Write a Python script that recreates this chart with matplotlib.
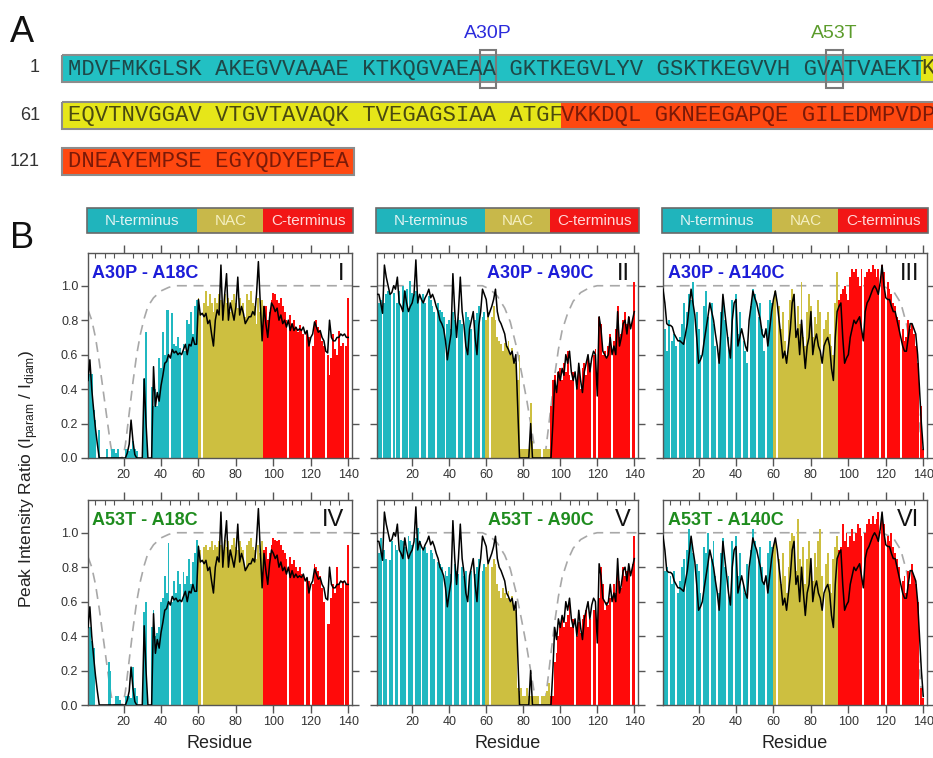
import numpy as np
import matplotlib.pyplot as plt
from matplotlib.patches import Rectangle
from matplotlib.ticker import MultipleLocator

plt.rcParams['font.family'] = ['Liberation Sans', 'DejaVu Sans']
plt.rcParams['mathtext.fontset'] = 'custom'
plt.rcParams['mathtext.rm'] = 'Liberation Sans'

# ---- panel A: sequence ----
seq_rows = ['MDVFMKGLSK AKEGVVAAAE KTKQGVAEAA GKTKEGVLYV GSKTKEGVVH GVATVAEKTK',
            'EQVTNVGGAV VTGVTAVAQK TVEGAGSIAA ATGFVKKDQL GKNEEGAPQE GILEDMPVDP',
            'DNEAYEMPSE EGYQDYEPEA']
row_starts = ['1', '61', '121']
mutations = [(30, 'A30P', '#2b2bdc'), (53, 'A53T', '#5c9c2c')]

# ---- panel B: data ----
residues = np.arange(1, 141)
domain_names = ['N-terminus', 'NAC', 'C-terminus']

# bars: mutant PRE ratios
a30p_18c = [0.30, 0.49, 0.49, 0.28, 0.22, 0.00, 0.16, 0.00, 0.00, 0.00,
            0.05, 0.00, 0.00, 0.05, 0.05, 0.03, 0.05, 0.00, 0.00, 0.00,
            0.05, 0.05, 0.04, 0.05, 0.10, 0.05, 0.04, 0.00, 0.00, 0.00,
            0.46, 0.73, 0.00, 0.00, 0.41, 0.30, 0.40, 0.30, 0.58, 0.52,
            0.73, 0.60, 0.86, 0.86, 0.00, 0.84, 0.66, 0.65, 0.70, 0.64,
            0.00, 0.66, 0.62, 0.80, 0.78, 0.85, 0.72, 0.88, 0.92, 0.93,
            0.85, 0.00, 0.90, 0.97, 0.88, 0.95, 0.90, 0.85, 0.93, 0.90,
            0.95, 0.92, 0.88, 0.95, 0.90, 0.93, 0.85, 0.92, 0.95, 0.90,
            0.87, 0.93, 0.88, 0.90, 0.82, 0.95, 0.92, 0.97, 0.90, 0.88,
            0.78, 0.93, 0.85, 0.92, 0.88, 0.88, 0.80, 0.85, 0.92, 0.96,
            0.95, 0.92, 0.90, 0.93, 0.88, 0.85, 0.80, 0.00, 0.83, 0.78,
            0.80, 0.76, 0.73, 0.77, 0.75, 0.72, 0.00, 0.73, 0.70, 0.00,
            0.65, 0.78, 0.80, 0.76, 0.73, 0.68, 0.65, 0.00, 0.60, 0.48,
            0.58, 0.72, 0.63, 0.60, 0.74, 0.65, 0.67, 0.00, 0.65, 0.93]
a30p_90c = [0.98, 0.90, 0.92, 0.00, 0.90, 0.95, 0.97, 0.95, 0.00, 0.96,
            0.00, 0.90, 0.97, 0.00, 1.00, 0.97, 0.98, 0.00, 1.03, 0.96,
            0.95, 0.97, 0.92, 0.00, 0.93, 0.95, 0.90, 0.00, 0.94, 0.92,
            0.88, 0.85, 0.00, 0.90, 0.86, 0.85, 0.82, 0.00, 0.78, 0.80,
            0.75, 0.85, 0.80, 0.00, 0.82, 0.80, 0.78, 0.00, 0.85, 0.82,
            0.80, 0.75, 0.00, 0.80, 0.84, 0.88, 0.00, 0.82, 0.85, 0.80,
            0.85, 0.00, 0.82, 0.88, 0.80, 0.70, 0.68, 0.66, 0.62, 0.67,
            0.65, 0.68, 0.60, 0.64, 0.58, 0.55, 0.45, 0.60, 0.05, 0.05,
            0.05, 0.05, 0.05, 0.32, 0.10, 0.05, 0.05, 0.05, 0.05, 0.00,
            0.05, 0.05, 0.05, 0.05, 0.30, 0.45, 0.48, 0.42, 0.50, 0.52,
            0.45, 0.55, 0.50, 0.62, 0.48, 0.45, 0.50, 0.00, 0.42, 0.50,
            0.40, 0.52, 0.55, 0.48, 0.58, 0.55, 0.00, 0.60, 0.63, 0.00,
            0.82, 0.78, 0.60, 0.62, 0.58, 0.65, 0.72, 0.00, 0.68, 0.75,
            0.88, 0.70, 0.72, 0.80, 0.85, 0.78, 0.82, 0.00, 0.80, 1.02]
a30p_140c = [0.98, 0.75, 0.62, 0.80, 0.00, 0.68, 0.72, 0.65, 0.00, 0.70,
             0.78, 0.90, 0.00, 0.85, 0.95, 0.92, 1.02, 0.00, 0.85, 0.75,
             0.60, 0.00, 0.88, 0.97, 0.82, 0.00, 0.90, 0.78, 0.65, 0.00,
             0.60, 0.85, 0.93, 0.80, 0.00, 0.70, 0.60, 0.92, 0.00, 0.95,
             0.72, 0.85, 0.00, 0.68, 0.62, 0.55, 0.00, 0.88, 0.98, 0.95,
             0.00, 0.82, 0.90, 0.75, 0.62, 0.00, 0.80, 0.92, 0.90, 0.92,
             0.97, 0.00, 0.88, 0.75, 0.85, 0.68, 0.60, 0.80, 0.92, 0.98,
             0.95, 0.72, 0.88, 0.78, 1.02, 0.70, 0.65, 0.85, 0.95, 0.88,
             0.70, 0.82, 0.78, 0.92, 0.85, 0.00, 0.75, 0.80, 0.85, 0.72,
             0.65, 0.60, 0.90, 1.08, 0.92, 0.95, 0.98, 1.00, 0.95, 0.92,
             1.05, 1.10, 1.08, 1.10, 1.05, 1.00, 1.10, 0.00, 1.05, 1.08,
             1.10, 1.08, 1.12, 1.10, 1.05, 1.10, 0.00, 1.12, 1.08, 0.00,
             1.02, 0.98, 0.95, 0.90, 0.88, 0.82, 0.80, 0.00, 0.75, 0.68,
             0.70, 0.80, 0.75, 0.78, 0.72, 0.65, 0.55, 0.00, 0.30, 0.05]
a53t_18c = [0.45, 0.45, 0.37, 0.33, 0.00, 0.00, 0.00, 0.00, 0.00, 0.00,
            0.00, 0.25, 0.20, 0.00, 0.00, 0.05, 0.05, 0.03, 0.00, 0.00,
            0.05, 0.05, 0.05, 0.04, 0.22, 0.10, 0.05, 0.00, 0.00, 0.00,
            0.54, 0.60, 0.00, 0.00, 0.45, 0.55, 0.40, 0.42, 0.45, 0.60,
            0.62, 0.75, 0.65, 0.94, 0.00, 0.60, 0.72, 0.65, 0.78, 0.70,
            0.00, 0.77, 0.70, 0.75, 0.85, 0.70, 0.83, 0.88, 0.96, 0.93,
            0.90, 0.00, 0.92, 0.93, 0.90, 0.92, 0.95, 0.90, 0.93, 0.92,
            0.95, 0.93, 0.90, 0.96, 0.92, 0.95, 0.90, 0.93, 0.97, 0.92,
            0.90, 0.95, 0.92, 0.90, 0.80, 0.93, 0.95, 0.97, 0.92, 0.90,
            0.85, 0.93, 0.88, 0.95, 0.90, 0.92, 0.85, 0.88, 0.93, 0.97,
            0.96, 0.95, 0.96, 0.93, 0.90, 0.88, 0.85, 0.00, 0.86, 0.82,
            0.84, 0.80, 0.78, 0.80, 0.76, 0.75, 0.00, 0.74, 0.72, 0.00,
            0.70, 0.82, 0.80, 0.78, 0.75, 0.68, 0.60, 0.00, 0.47, 0.47,
            0.62, 0.70, 0.65, 0.80, 0.70, 0.68, 0.72, 0.00, 0.70, 0.93]
a53t_90c = [0.95, 0.88, 0.97, 0.00, 0.90, 0.85, 0.00, 0.84, 0.95, 0.00,
            0.93, 0.90, 0.00, 0.96, 0.95, 0.92, 0.00, 0.98, 0.95, 0.93,
            0.00, 0.97, 1.03, 0.95, 0.00, 0.90, 0.92, 0.88, 0.00, 0.90,
            0.88, 0.85, 0.00, 0.83, 0.82, 0.80, 0.00, 0.78, 0.75, 0.80,
            0.76, 0.00, 0.82, 0.78, 0.76, 0.00, 0.80, 0.75, 0.78, 0.00,
            0.72, 0.78, 0.00, 0.76, 0.80, 0.85, 0.00, 0.78, 0.82, 0.80,
            0.82, 0.00, 0.80, 0.85, 0.82, 0.70, 0.66, 0.62, 0.68, 0.65,
            0.62, 0.66, 0.60, 0.63, 0.58, 0.55, 0.10, 0.08, 0.10, 0.05,
            0.05, 0.10, 0.05, 0.05, 0.05, 0.05, 0.05, 0.05, 0.00, 0.05,
            0.05, 0.05, 0.08, 0.13, 0.05, 0.05, 0.25, 0.30, 0.40, 0.46,
            0.50, 0.45, 0.48, 0.52, 0.58, 0.45, 0.50, 0.00, 0.40, 0.48,
            0.42, 0.50, 0.52, 0.55, 0.45, 0.50, 0.00, 0.55, 0.58, 0.00,
            0.62, 0.80, 0.70, 0.55, 0.60, 0.58, 0.62, 0.00, 0.70, 0.65,
            0.78, 0.72, 0.68, 0.80, 0.75, 0.78, 0.80, 0.00, 0.82, 0.98]
a53t_140c = [0.98, 0.78, 0.80, 0.00, 0.75, 0.70, 0.78, 0.00, 0.65, 0.72,
             0.80, 0.85, 0.00, 0.90, 1.02, 0.95, 0.88, 0.00, 0.82, 0.78,
             0.65, 0.00, 0.92, 0.88, 1.00, 0.00, 0.85, 0.95, 0.75, 0.00,
             0.65, 0.88, 0.97, 0.80, 0.00, 0.75, 0.62, 0.95, 0.00, 0.98,
             0.75, 0.88, 0.00, 0.70, 0.65, 0.82, 0.00, 0.90, 1.02, 0.95,
             0.00, 0.85, 0.92, 0.80, 0.70, 0.00, 0.88, 0.95, 0.92, 0.90,
             0.95, 0.00, 0.85, 0.70, 0.88, 0.75, 0.65, 0.80, 0.95, 1.00,
             0.98, 0.78, 1.08, 0.85, 0.80, 0.92, 0.70, 0.85, 0.95, 0.78,
             0.72, 0.88, 0.80, 0.95, 1.02, 0.75, 0.00, 0.82, 0.88, 0.70,
             0.65, 0.85, 0.92, 0.98, 0.90, 0.92, 1.05, 0.95, 1.00, 0.92,
             0.98, 1.02, 0.95, 1.00, 1.05, 1.03, 0.98, 0.00, 1.00, 1.05,
             1.08, 1.05, 1.10, 1.05, 1.08, 1.12, 0.00, 1.10, 1.05, 0.00,
             0.98, 0.95, 1.00, 0.92, 0.88, 0.85, 0.80, 0.00, 0.72, 0.75,
             0.65, 0.78, 0.70, 0.82, 0.75, 0.70, 0.60, 0.00, 0.10, 0.04]

# black lines: reference profile for each spin-label site
line_18c = [0.45, 0.57, 0.40, 0.28, 0.17, 0.08, 0.00, 0.00, 0.00, 0.00,
            0.00, 0.00, 0.00, 0.00, 0.00, 0.00, 0.00, 0.00, 0.00, 0.00,
            0.00, 0.03, 0.08, 0.22, 0.10, 0.02, 0.00, 0.00, 0.00, 0.00,
            0.46, 0.20, 0.00, 0.00, 0.00, 0.53, 0.30, 0.38, 0.33, 0.42,
            0.48, 0.55, 0.56, 0.60, 0.58, 0.63, 0.61, 0.62, 0.60, 0.61,
            0.60, 0.63, 0.66, 0.60, 0.66, 0.65, 0.70, 0.66, 0.66, 0.92,
            0.83, 0.84, 0.82, 0.84, 0.78, 0.80, 0.72, 0.65, 0.80, 0.86,
            0.83, 1.12, 0.80, 0.95, 1.07, 0.80, 0.90, 0.85, 0.80, 0.88,
            1.05, 0.83, 0.88, 0.84, 0.78, 0.80, 0.82, 0.82, 0.85, 0.83,
            0.95, 1.14, 0.90, 0.68, 0.88, 0.78, 0.70, 0.82, 0.90, 0.88,
            0.85, 0.87, 0.80, 0.83, 0.78, 0.80, 0.76, 0.80, 0.74, 0.78,
            0.74, 0.76, 0.74, 0.75, 0.74, 0.76, 0.72, 0.74, 0.65, 0.70,
            0.72, 0.79, 0.76, 0.73, 0.74, 0.70, 0.68, 0.62, 0.61, 0.80,
            0.70, 0.68, 0.68, 0.70, 0.70, 0.72, 0.71, 0.72, 0.70, 0.70]
line_90c = [0.95, 0.95, 0.90, 0.84, 1.12, 1.05, 1.00, 0.95, 0.96, 1.00,
            0.98, 1.05, 0.90, 0.88, 0.85, 0.97, 0.90, 0.85, 0.88, 0.90,
            0.95, 1.15, 0.90, 0.95, 0.92, 0.90, 0.93, 0.95, 0.98, 0.93,
            0.95, 0.92, 0.88, 0.85, 0.80, 0.78, 0.75, 0.68, 0.57, 0.65,
            0.72, 1.07, 0.85, 0.70, 0.85, 1.05, 0.85, 0.77, 0.65, 0.60,
            0.75, 0.80, 0.85, 0.70, 0.60, 0.77, 0.85, 0.98, 0.95, 0.92,
            0.82, 0.85, 0.88, 0.92, 0.98, 0.85, 0.80, 0.78, 0.75, 0.72,
            0.65, 0.63, 0.60, 0.62, 0.55, 0.60, 0.30, 0.00, 0.00, 0.00,
            0.00, 0.00, 0.00, 0.20, 0.00, 0.00, 0.00, 0.00, 0.00, 0.00,
            0.00, 0.00, 0.00, 0.00, 0.00, 0.20, 0.45, 0.38, 0.50, 0.45,
            0.52, 0.48, 0.60, 0.55, 0.62, 0.50, 0.45, 0.50, 0.40, 0.55,
            0.45, 0.38, 0.50, 0.55, 0.60, 0.50, 0.58, 0.62, 0.60, 0.36,
            0.82, 0.75, 0.62, 0.60, 0.58, 0.60, 0.70, 0.60, 0.65, 0.60,
            0.85, 0.65, 0.70, 0.78, 0.80, 0.72, 0.82, 0.75, 0.80, 0.85]
line_140c = [0.98, 0.90, 0.78, 0.77, 0.77, 0.76, 0.72, 0.70, 0.68, 0.68,
             0.67, 0.66, 0.72, 0.78, 0.88, 0.98, 0.90, 0.83, 0.70, 0.55,
             0.57, 0.60, 0.68, 0.75, 0.82, 0.90, 0.85, 0.80, 0.72, 0.65,
             0.55, 0.75, 0.95, 0.85, 0.75, 0.65, 0.58, 0.80, 0.90, 0.92,
             0.65, 0.70, 0.75, 0.70, 0.65, 0.62, 0.80, 0.88, 0.97, 0.93,
             0.90, 0.85, 0.80, 0.72, 0.70, 0.75, 0.65, 0.75, 0.85, 0.92,
             0.97, 0.90, 0.80, 0.70, 0.58, 0.62, 0.55, 0.65, 0.75, 0.90,
             0.95, 0.70, 0.75, 0.60, 0.80, 0.65, 0.52, 0.65, 0.70, 0.85,
             0.60, 0.68, 0.72, 0.65, 0.62, 0.55, 0.65, 0.68, 0.70, 0.65,
             0.52, 0.45, 0.70, 0.85, 0.88, 0.90, 0.70, 0.55, 0.58, 0.60,
             0.70, 0.75, 0.80, 0.78, 0.80, 0.82, 0.75, 0.68, 0.85, 0.90,
             0.92, 0.95, 0.98, 1.00, 0.98, 0.95, 1.02, 1.12, 1.00, 0.93,
             0.92, 0.92, 0.88, 0.85, 0.85, 0.80, 0.75, 0.70, 0.65, 0.62,
             0.62, 0.70, 0.78, 0.78, 0.75, 0.72, 0.60, 0.40, 0.20, 0.05]

# grey dashed: expected profile for a random coil
theory_18c_x = [1, 3, 5, 7, 9, 11, 13, 14, 15, 19, 20, 21, 23, 25, 27, 29, 31, 33, 36, 40, 44, 47, 142]
theory_18c_y = [0.86, 0.80, 0.70, 0.56, 0.40, 0.24, 0.08, 0.02, 0.0, 0.0, 0.02, 0.08, 0.26, 0.44,
                0.60, 0.72, 0.81, 0.88, 0.93, 0.97, 0.99, 1.0, 1.0]
theory_90c_x = [1, 58, 62, 66, 70, 73, 76, 79, 82, 84, 86, 87, 88, 91, 92, 93, 95, 97, 99, 101,
                104, 107, 111, 116, 120, 142]
theory_90c_y = [1.0, 1.0, 0.98, 0.94, 0.87, 0.79, 0.66, 0.50, 0.33, 0.20, 0.07, 0.02, 0.0, 0.0,
                0.03, 0.12, 0.30, 0.48, 0.63, 0.74, 0.84, 0.91, 0.96, 0.99, 1.0, 1.0]
theory_140c_x = [1, 118, 124, 128, 131, 134, 136, 138, 139, 140]
theory_140c_y = [1.0, 1.0, 0.97, 0.90, 0.78, 0.60, 0.42, 0.20, 0.08, 0.0]

panels = [
    (a30p_18c, line_18c, theory_18c_x, theory_18c_y, 'A30P - A18C', 'I', 0.015, 'left'),
    (a30p_90c, line_90c, theory_90c_x, theory_90c_y, 'A30P - A90C', 'II', 0.83, 'right'),
    (a30p_140c, line_140c, theory_140c_x, theory_140c_y, 'A30P - A140C', 'III', 0.02, 'left'),
    (a53t_18c, line_18c, theory_18c_x, theory_18c_y, 'A53T - A18C', 'IV', 0.015, 'left'),
    (a53t_90c, line_90c, theory_90c_x, theory_90c_y, 'A53T - A90C', 'V', 0.83, 'right'),
    (a53t_140c, line_140c, theory_140c_x, theory_140c_y, 'A53T - A140C', 'VI', 0.02, 'left'),
]

seq_colors = ['#22c0c3', '#e6e619', '#ff4810']
seq_text = ['#1e4848', '#4a4a10', '#7a1a08']
bar_cols = ['#20b8c0', '#cdbf40', '#ff0a0a']
head_cols = ['#20b4bc', '#c8b84a', '#f21616']
head_text = ['#dff3f3', '#f4efc0', '#ffd8d8']


def domain(r):
    if r < 60:
        return 0
    if r < 95:
        return 1
    return 2


W, H = 933.0, 758.0


def box(x, y, w, h):
    return [x / W, 1 - (y + h) / H, w / W, h / H]


fig = plt.figure(figsize=(9.33, 7.58), dpi=100)

ax0 = fig.add_axes([0, 0, 1, 1])
ax0.set_xlim(0, W)
ax0.set_ylim(H, 0)
ax0.axis('off')

ax0.text(10, 33, 'A', fontsize=26, va='center', ha='left', color='#111')
ax0.text(10, 238, 'B', fontsize=26, va='center', ha='left', color='#111')

x0, cw, bh = 68, 13.33, 27
row_y = [68, 115, 161]
for k, row in enumerate(seq_rows):
    y = row_y[k]
    n = len(row.replace(' ', ''))
    idx = [i + i // 10 for i in range(n)]
    doms = [domain(60 * k + i + 1) for i in range(n)]
    left = x0 - 6
    end = x0 + len(row) * cw + 6
    # split into colour runs
    cuts = [0] + [i for i in range(1, n) if doms[i] != doms[i - 1]] + [n]
    for a, b in zip(cuts[:-1], cuts[1:]):
        xa = left if a == 0 else x0 + idx[a] * cw
        xb = end if b == n else x0 + idx[b] * cw
        ax0.add_patch(Rectangle((xa, y - bh / 2), xb - xa, bh, fc=seq_colors[doms[a]], ec='none'))
        ca = idx[a]
        cb = len(row) if b == n else idx[b]
        ax0.text(x0 + ca * cw, y + 1, row[ca:cb], family='Liberation Mono', fontsize=16,
                 va='center', ha='left', color=seq_text[doms[a]])
    ax0.add_patch(Rectangle((left, y - bh / 2), end - left, bh, fill=False, ec='#8c8c8c', lw=1.5))
    ax0.text(40, y, row_starts[k], fontsize=13, ha='right', va='center', color='#333')

for res, name, col in mutations:
    i = res - 1
    xc = x0 + (i + i // 10) * cw
    ax0.add_patch(Rectangle((xc - 1.5, 50), cw + 3, 38, fill=False, ec='#7a7a7a', lw=1.5))
    ax0.text(xc + cw / 2, 34, name, fontsize=14, ha='center', va='center', color=col)

ax0.text(29, 479, r'Peak Intensity Ratio (I$_{\mathrm{param}}$ / I$_{\mathrm{diam}}$)', rotation=90,
         fontsize=12.5, ha='center', va='center', color='#222')

col_left = [88, 377, 663]
col_width = [264, 261, 264]
row_top = [253, 500]
xlo, xhi = 1, 142
bar_colors = [bar_cols[domain(r)] for r in residues]
yt = np.arange(0, 1.01, 0.2)

for c in range(3):
    hx = fig.add_axes(box(col_left[c] - 1, 208, col_width[c] + 2, 25))
    hx.set_xlim(xlo, xhi)
    hx.set_ylim(0, 1)
    hx.axis('off')
    edges = [xlo, 59.5, 94.5, xhi]
    for j in range(3):
        hx.add_patch(Rectangle((edges[j], 0), edges[j + 1] - edges[j], 1, fc=head_cols[j], ec='none'))
        hx.text((edges[j] + edges[j + 1]) / 2, 0.47, domain_names[j], ha='center', va='center',
                fontsize=11, color=head_text[j])
    hx.add_patch(Rectangle((xlo, 0), xhi - xlo, 1, fill=False, ec='#6a6a6a', lw=1.2, clip_on=False))

for i, (bars, line, tx, ty, label, roman, lx, lha) in enumerate(panels):
    r, c = divmod(i, 3)
    ax = fig.add_axes(box(col_left[c], row_top[r], col_width[c], 205))
    ax.plot(tx, ty, color='#a8a8a8', lw=1.2, ls=(0, (6, 4)), zorder=1)
    ax.bar(residues, bars, width=1.0, color=bar_colors, linewidth=0, zorder=2)
    ax.plot(residues, line, color='black', lw=1.1, zorder=3)
    ax.set_xlim(xlo, xhi)
    ax.set_ylim(0, 1.19)
    ax.set_xticks(range(20, 141, 20))
    ax.xaxis.set_minor_locator(MultipleLocator(5))
    ax.set_yticks(yt)
    ax.tick_params(axis='x', which='major', top=True, bottom=True, direction='out', length=6,
                   width=1, color='#555', labelsize=9, labelcolor='#333', pad=2)
    ax.tick_params(axis='x', which='minor', top=True, bottom=False, direction='in', length=3.5,
                   width=0.8, color='#555')
    ax.tick_params(axis='y', left=True, right=True, direction='out', length=5, width=1,
                   color='#555', labelsize=9, labelcolor='#333', pad=2)
    if c == 0:
        ax.set_yticklabels(['%.1f' % v for v in yt])
    else:
        ax.set_yticklabels([])
    for s in ax.spines.values():
        s.set_color('#555')
        s.set_linewidth(1.0)
    tcol = '#1c1cd8' if label.startswith('A30P') else '#1e8c1e'
    ax.text(lx, 0.9, label, transform=ax.transAxes, ha=lha, va='center', fontsize=13,
            fontweight='bold', color=tcol, zorder=5)
    ax.text(0.97, 0.9, roman, transform=ax.transAxes, ha='right', va='center', fontsize=17,
            color='#111', zorder=5)
    if r == 1:
        ax.set_xlabel('Residue', fontsize=13, labelpad=5, color='#222')

fig.savefig('out.png', dpi=100)
